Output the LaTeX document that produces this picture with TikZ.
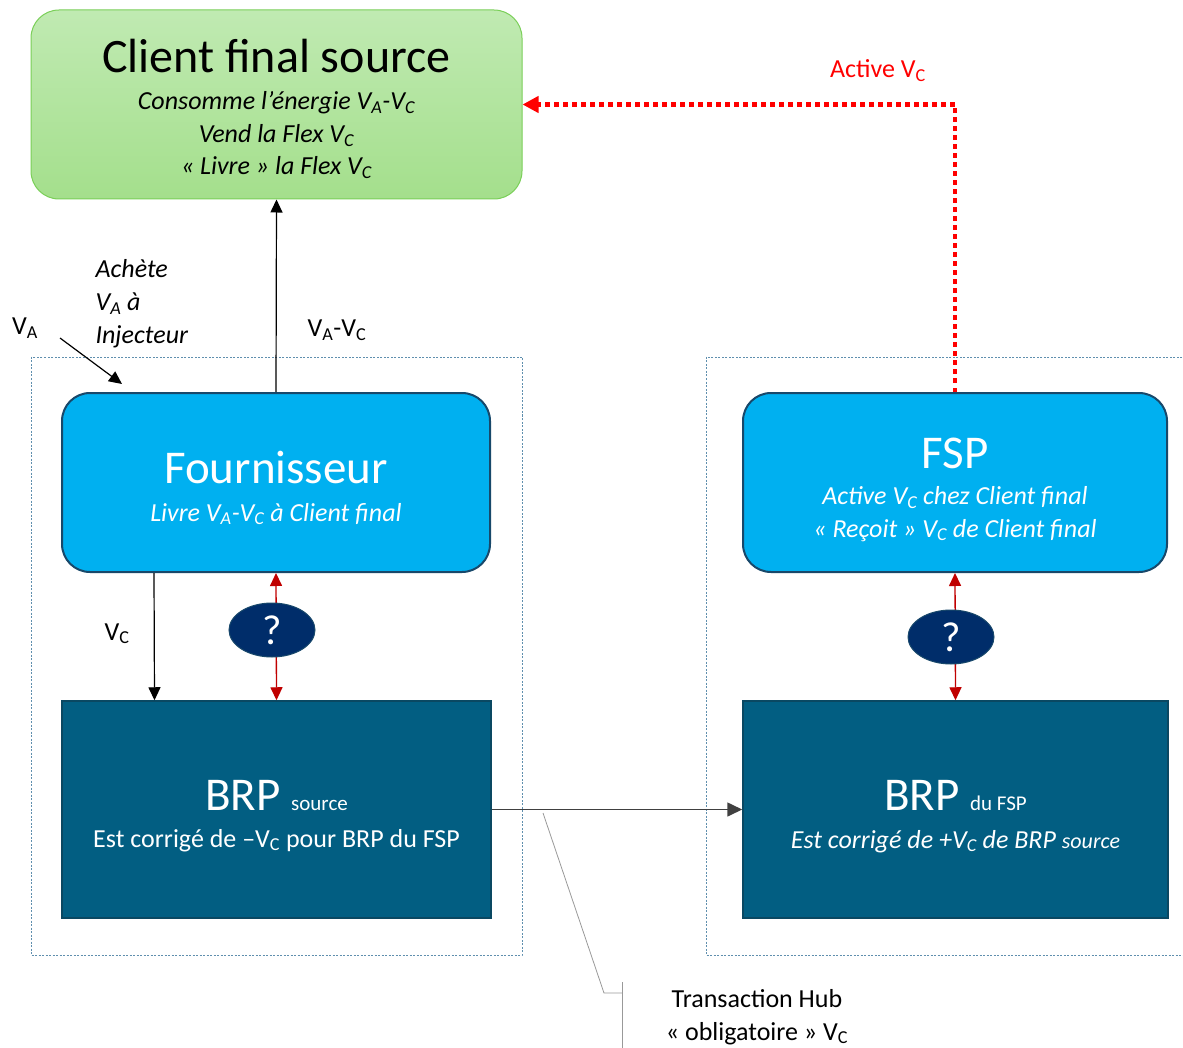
\documentclass[tikz,border=0pt]{standalone}
\usepackage{fontspec}
\setmainfont{Carlito}
\usetikzlibrary{arrows.meta,shapes.geometric}
\definecolor{greentop}{HTML}{C0EAB2}
\definecolor{greenbot}{HTML}{A4DF8C}
\definecolor{greenline}{HTML}{7ACF58}
\definecolor{fspblue}{HTML}{00B0F0}
\definecolor{boxline}{HTML}{18486A}
\definecolor{brpteal}{HTML}{025E82}
\definecolor{brpline}{HTML}{0A4862}
\definecolor{qblue}{HTML}{002D6A}
\definecolor{framecol}{HTML}{5F8FAE}
\definecolor{darkred}{HTML}{C00000}
\def\Vsub#1{V\textsubscript{#1}}
\def\drawred{\draw[color=darkred, line width=1.3pt, {Triangle[length=13pt,width=12pt]}-{Triangle[length=13pt,width=12pt]}]}
\def\qnode{\node[ellipse,draw=boxline,line width=1pt,fill=qblue,text=white,minimum width=86pt,minimum height=54pt,inner sep=0pt,font=\fontsize{42}{42}\selectfont]}

\begin{document}
\begin{tikzpicture}[x=1pt,y=-1pt,
  greenbox/.style={rectangle,rounded corners=28pt,draw=greenline,line width=1pt,top color=greentop,bottom color=greenbot,minimum width=491pt,minimum height=189pt},
  bluebox/.style={rectangle,rounded corners=28pt,draw=boxline,line width=2pt,fill=fspblue,minimum height=179pt},
  brpbox/.style={rectangle,draw=brpline,line width=1.5pt,fill=brpteal,minimum height=217pt},
  frame/.style={draw=framecol,line width=0.6pt,dash pattern=on 2pt off 1.5pt},
  bigtext/.style={font=\fontsize{47}{47}\selectfont,anchor=base},
  subtext/.style={font=\fontsize{26}{32.5}\selectfont\itshape,align=center,anchor=base},
  lbl/.style={font=\fontsize{26}{33}\selectfont,anchor=base},
  blackarrow/.style={draw=black,line width=1.2pt,-{Triangle[length=13pt,width=12pt]}},
  hubarrow/.style={draw=black!75,line width=1.6pt,-{Triangle[length=15pt,width=14pt]}},
  activearrow/.style={draw=red,line width=4.5pt,dash pattern=on 4.5pt off 4.5pt,-{Triangle[length=16pt,width=16pt]}},
  callout/.style={draw=black!40,line width=0.8pt}]
\clip (0,0) rectangle (1183,1048);

% frames
\draw[frame] (31,357) rectangle (522,955);
\draw[frame] (706,357) rectangle (1200,955);

% boxes
\node[greenbox] (client) at (276.5,104.5) {};
\node[bluebox,minimum width=428pt] (fourn) at (276,482.5) {};
\node[bluebox,minimum width=424pt] (fsp) at (955,482.5) {};
\node[brpbox,minimum width=429pt] (brpsrc) at (276.5,809.5) {};
\node[brpbox,minimum width=425pt] (brpfsp) at (955.5,809.5) {};

% texts in boxes (multi-line nodes sit on their last line)
\node[bigtext,font=\fontsize{48}{48}\selectfont] (clienttitle) at (276.5,73) {Client final source};
\node[subtext] (clientroles) at (276.5,175) {Consomme l'énergie \Vsub{A}-\Vsub{C}\\Vend la Flex \Vsub{C}\\« Livre » la Flex \Vsub{C}};
\node[bigtext,text=white] (fourntitle) at (276,483) {Fournisseur};
\node[subtext,text=white] (fournroles) at (276,521) {Livre \Vsub{A}-\Vsub{C} à Client final};
\node[bigtext,text=white] (fsptitle) at (955,468) {FSP};
\node[subtext,text=white] (fsproles) at (955,537) {Active \Vsub{C} chez Client final\\« Reçoit » \Vsub{C} de Client final};
\node[bigtext,text=white] (brpsrctitle) at (276.5,810) {BRP {\fontsize{21}{21}\selectfont source}};
\node[lbl,text=white] (brpsrcroles) at (276.5,847) {Est corrigé de –\Vsub{C} pour BRP du FSP};
\node[bigtext,text=white] (brpfsptitle) at (955.5,810) {BRP {\fontsize{21}{21}\selectfont du FSP}};
\node[subtext,text=white] (brpfsproles) at (955.5,848) {Est corrigé de +\Vsub{C} de BRP {\fontsize{22}{22}\selectfont source}};

% connectors
\draw[blackarrow] (fourn.north) -- (client.south);
\draw[blackarrow] ([xshift=-122pt]fourn.south) -- ([xshift=-122pt]brpsrc.north);
\drawred (fourn.south) -- (brpsrc.north);
\drawred (fsp.south) -- (brpfsp.north);
\draw[hubarrow] (brpsrc.east) -- (brpfsp.west);
\draw[activearrow] (fsp.north) |- (client.east);
\coordinate (vastart) at (60,338);
\coordinate (vaend) at (122,384);
\draw[blackarrow] (vastart) -- (vaend);

% question marks
\qnode (qsrc) at (272,630) {?};
\qnode (qfsp) at (951,637) {?};

% hub callout
\coordinate (hubpt) at (543,813);
\coordinate (hubknee) at (604,993);
\coordinate (hubbar) at (622,993);
\draw[callout] (hubpt) -- (hubknee) -- (hubbar);
\draw[callout] (622,982) -- (622,1050);

% labels
\node[lbl] (valbl) at (25,335) {\Vsub{A}};
\node[lbl,font=\fontsize{26}{33}\selectfont\itshape,anchor=base west,align=left] (achete) at (92,344) {Achète\\\Vsub{A} à\\Injecteur};
\node[lbl] (vavclbl) at (337,337) {\Vsub{A}-\Vsub{C}};
\node[lbl] (vclbl) at (117,640) {\Vsub{C}};
\node[lbl,text=red] (activelbl) at (878,78) {Active \Vsub{C}};
\node[lbl,align=center] (hublbl) at (757,1040) {Transaction Hub\\« obligatoire » \Vsub{C}};
\end{tikzpicture}
\end{document}
